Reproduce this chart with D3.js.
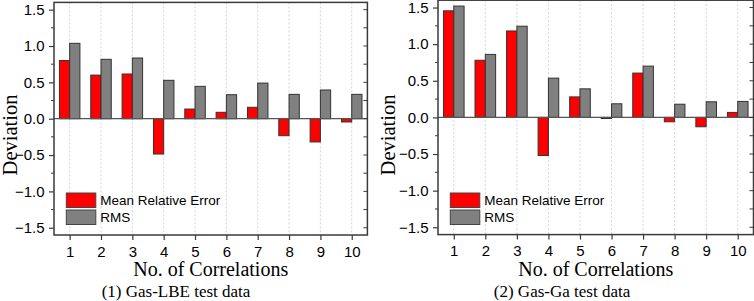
<!DOCTYPE html>
<html>
<head>
<meta charset="utf-8">
<script src="https://cdn.jsdelivr.net/npm/d3@7/dist/d3.min.js"></script>
<style>
  html, body { margin: 0; padding: 0; background: #fff; }
  svg { display: block; }
</style>
</head>
<body>
<svg id="chart" width="754" height="301"></svg>
<script>
// ---- Data ----
const categories = [1, 2, 3, 4, 5, 6, 7, 8, 9, 10];
const yTicks = [-1.5, -1.0, -0.5, 0.0, 0.5, 1.0, 1.5];
const seriesNames = ["Mean Relative Error", "RMS"];
const lbeMRE = [0.80, 0.60, 0.615, -0.486, 0.133, 0.088, 0.157, -0.234, -0.32, -0.045];
const lbeRMS = [1.037, 0.817, 0.835, 0.528, 0.445, 0.33, 0.49, 0.335, 0.395, 0.335];
const gaMRE = [1.455, 0.78, 1.18, -0.52, 0.28, -0.015, 0.605, -0.06, -0.128, 0.068];
const gaRMS = [1.52, 0.86, 1.245, 0.536, 0.39, 0.186, 0.70, 0.18, 0.213, 0.218];
const panelTitles = ["(1) Gas-LBE test data", "(2) Gas-Ga test data"];
const xTitle = "No. of Correlations";
const yTitle = "Deviation";

const colors = ["#ff0000", "#808080"];
const svg = d3.select("#chart");

const panels = [
  { left: 54, right: 367.4, top: 2.4, bottom: 235, mre: lbeMRE, rms: lbeRMS, title: panelTitles[0], titleX: 176, yLabX: 17 },
  { left: 438, right: 753.5, top: 0.2, bottom: 234.6, mre: gaMRE, rms: gaRMS, title: panelTitles[1], titleX: 562, yLabX: 395 }
];

const frameColor = "#3a3a3a";

panels.forEach(p => {
  const g = svg.append("g");
  const x = d3.scaleLinear().domain([0.5, 10.5]).range([p.left, p.right]);
  const y = d3.scaleLinear().domain([-1.6, 1.6]).range([p.bottom, p.top]);
  const bw = 0.327; // bar width in category units

  // vertical dotted grid
  g.append("g").selectAll("line").data(categories).join("line")
    .attr("x1", d => x(d)).attr("x2", d => x(d))
    .attr("y1", p.top).attr("y2", p.bottom)
    .attr("stroke", "#c8c8c8").attr("stroke-width", 0.8)
    .attr("stroke-dasharray", "2,2");

  // bars
  const series = [p.mre, p.rms];
  series.forEach((vals, si) => {
    g.append("g").selectAll("rect").data(categories).join("rect")
      .attr("x", (d, i) => x(d) + (si === 0 ? -bw : 0) * (x(1) - x(0)))
      .attr("width", bw * (x(1) - x(0)))
      .attr("y", (d, i) => y(Math.max(0, vals[i])))
      .attr("height", (d, i) => Math.abs(y(vals[i]) - y(0)))
      .attr("fill", colors[si])
      .attr("stroke", "#333")
      .attr("stroke-width", 1);
  });

  // zero line
  g.append("line")
    .attr("x1", p.left).attr("x2", p.right)
    .attr("y1", y(0)).attr("y2", y(0))
    .attr("stroke", "#555").attr("stroke-width", 1.2);

  // frame
  g.append("rect")
    .attr("x", p.left).attr("y", p.top)
    .attr("width", p.right - p.left).attr("height", p.bottom - p.top)
    .attr("fill", "none").attr("stroke", frameColor).attr("stroke-width", 1.5);

  // left axis (outer ticks, major + minor)
  const minor = d3.range(-1.5, 1.51, 0.25);
  const yAxis = d3.axisLeft(y).tickValues(yTicks).tickSize(5).tickPadding(4)
    .tickFormat(d3.format(".1f"));
  const ya = g.append("g").attr("transform", `translate(${p.left},0)`).call(yAxis);
  ya.select(".domain").remove();
  ya.selectAll(".tick line").attr("stroke", frameColor).attr("stroke-width", 1.2);
  ya.selectAll(".tick text").attr("font-family", "Liberation Sans, Arial, sans-serif")
    .attr("font-size", 15).attr("fill", "#000").attr("x", -9.5);
  g.append("g").selectAll("line").data(minor.filter(v => yTicks.indexOf(+v.toFixed(2)) < 0)).join("line")
    .attr("x1", p.left - 3).attr("x2", p.left)
    .attr("y1", d => y(d)).attr("y2", d => y(d))
    .attr("stroke", frameColor).attr("stroke-width", 1);

  // right axis (inner ticks)
  g.append("g").selectAll("line").data(minor).join("line")
    .attr("x1", p.right - 4).attr("x2", p.right)
    .attr("y1", d => y(d)).attr("y2", d => y(d))
    .attr("stroke", frameColor).attr("stroke-width", 1);

  // bottom axis
  const xAxis = d3.axisBottom(x).tickValues(categories).tickSize(5).tickPadding(6)
    .tickFormat(d3.format("d"));
  const xa = g.append("g").attr("transform", `translate(0,${p.bottom})`).call(xAxis);
  xa.select(".domain").remove();
  xa.selectAll(".tick line").attr("stroke", frameColor).attr("stroke-width", 1.2);
  xa.selectAll(".tick text").attr("font-family", "Liberation Sans, Arial, sans-serif")
    .attr("font-size", 15).attr("fill", "#000");

  // axis titles
  g.append("text")
    .attr("x", (p.left + p.right) / 2).attr("y", 276)
    .attr("text-anchor", "middle")
    .attr("font-family", "Liberation Serif, Times New Roman, serif")
    .attr("font-size", 20).text(xTitle);
  g.append("text")
    .attr("transform", `translate(${p.yLabX},${135}) rotate(-90)`)
    .attr("text-anchor", "middle")
    .attr("font-family", "Liberation Serif, Times New Roman, serif")
    .attr("font-size", 20.5).text(yTitle);
  g.append("text")
    .attr("x", p.titleX).attr("y", 297)
    .attr("text-anchor", "middle")
    .attr("font-family", "Liberation Serif, Times New Roman, serif")
    .attr("font-size", 17).text(p.title);

  // legend
  const lg = g.append("g").attr("transform", `translate(${p.left + 12.3},193)`);
  seriesNames.forEach((name, i) => {
    lg.append("rect")
      .attr("x", 0).attr("y", i * 17)
      .attr("width", 29.5).attr("height", 14.5)
      .attr("fill", colors[i]).attr("stroke", "#444").attr("stroke-width", 1);
    lg.append("text")
      .attr("x", 34).attr("y", i * 17 + 12)
      .attr("font-family", "Liberation Sans, Arial, sans-serif")
      .attr("font-size", 13.5).attr("fill", "#000").text(name);
  });
});
</script>
</body>
</html>
